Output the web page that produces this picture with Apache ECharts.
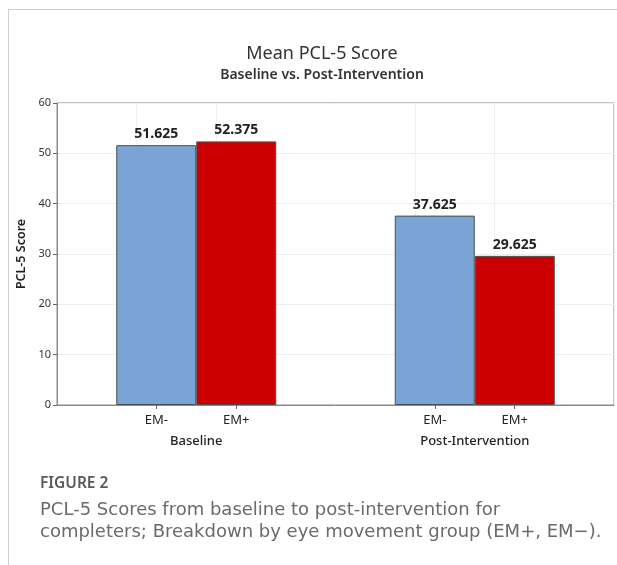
<!DOCTYPE html>
<html>
<head>
<meta charset="utf-8">
<style>
  body,
  html {
    overflow: hidden;
    width: 100%;
    height: 100%;
    margin: 0;
    padding: 0;
    background: #fff;
  }
  .chart-wrapper {
    position: relative;
    width: 617px;
    height: 565px;
  }
</style>
</head>
<body>
<div id="chart-wrapper" class="chart-wrapper"></div>
<script src="https://cdn.jsdelivr.net/npm/echarts@6/dist/echarts.min.js"></script>
<script>
  // data
  const phases = ["Baseline", "Post-Intervention"];
  const groups = ["EM-", "EM+"];
  const emMinus = [51.625, 37.625];
  const emPlus = [52.375, 29.625];

  // hidden helper axis: 14 slots, bar centres sit on slots 2,4,9,11
  const slots = Array.from({ length: 14 }, (_, i) => "s" + i);
  const tickSlots = [2, 4, 9, 11];

  const chartDom = document.getElementById("chart-wrapper");
  const chart = echarts.init(chartDom, null, { renderer: "canvas" });
  const font = "'Noto Sans', 'Open Sans', sans-serif";
  const capFont = "'DejaVu Sans', sans-serif";

  const barLabel = {
    show: true,
    position: "top",
    distance: 4,
    fontSize: 14,
    fontWeight: "bold",
    color: "#222",
    formatter: (p) => p.value.toFixed(3),
  };

  const option = {
    backgroundColor: "#fff",
    animation: false,
    textStyle: { fontFamily: font },
    title: [
      {
        text: "Mean PCL-5 Score",
        subtext: "Baseline vs. Post-Intervention",
        left: 317,
        textAlign: "center",
        top: 40,
        itemGap: 5,
        textStyle: { fontSize: 18, fontWeight: "normal", color: "#333", fontFamily: font },
        subtextStyle: { fontSize: 14, fontWeight: 600, color: "#333", fontFamily: font },
      },
    ],
    grid: {
      left: 57,
      right: 3,
      top: 103,
      bottom: 160,
      show: true,
      borderColor: "#8a8a8a",
      borderWidth: 1,
    },
    xAxis: [
      {
        type: "category",
        data: phases,
        axisLine: { show: true, lineStyle: { color: "#8a8a8a" } },
        axisTick: { show: false },
        splitLine: { show: false },
        axisLabel: {
          margin: 5,
          interval: 0,
          formatter: (v) => `{g|${groups[0]}}{g|${groups[1]}}\n{p|${v}}`,
          rich: {
            g: { width: 80, align: "center", fontSize: 13, color: "#222", lineHeight: 20, fontFamily: font },
            p: { fontSize: 13, fontWeight: 500, color: "#222", lineHeight: 22, fontFamily: font },
          },
        },
      },
      {
        type: "category",
        data: slots,
        position: "bottom",
        axisLine: { show: false },
        axisLabel: { show: false },
        axisTick: {
          show: true,
          alignWithLabel: true,
          interval: (i) => tickSlots.includes(i),
          length: 4,
          lineStyle: { color: "#666" },
        },
        splitLine: {
          show: true,
          interval: (i) => tickSlots.includes(i),
          lineStyle: { color: "#f0f0f0" },
        },
      },
    ],
    yAxis: {
      type: "value",
      min: 0,
      max: 60,
      interval: 10,
      name: "PCL-5 Score",
      nameLocation: "middle",
      nameGap: 29,
      nameTextStyle: { fontSize: 12.5, fontWeight: 600, color: "#222", fontFamily: font },
      axisLine: { show: true, lineStyle: { color: "#8a8a8a" } },
      axisTick: { show: true, length: 4, lineStyle: { color: "#666" } },
      axisLabel: { fontSize: 11, color: "#333", margin: 6 },
      splitLine: { show: true, lineStyle: { color: "#eeeeee" } },
    },
    series: [
      {
        name: groups[0],
        type: "bar",
        data: emMinus,
        barWidth: 80,
        barGap: "0%",
        itemStyle: { color: "#7aa3d6", borderColor: "#4d4d4d", borderWidth: 1 },
        label: barLabel,
      },
      {
        name: groups[1],
        type: "bar",
        data: emPlus,
        barWidth: 80,
        barGap: "0%",
        itemStyle: { color: "#cc0000", borderColor: "#4d4d4d", borderWidth: 1 },
        label: barLabel,
      },
    ],
    graphic: [
      {
        type: "line",
        shape: { x1: 8, y1: 9.5, x2: 617, y2: 9.5 },
        style: { stroke: "#d0d0d0", lineWidth: 1 },
      },
      {
        type: "line",
        shape: { x1: 8.5, y1: 9, x2: 8.5, y2: 565 },
        style: { stroke: "#d0d0d0", lineWidth: 1 },
      },
      {
        type: "text",
        left: 40,
        top: 476,
        style: { text: "FIGURE 2", fontSize: 15.5, fontWeight: 600, fill: "#595959", fontFamily: font },
      },
      {
        type: "text",
        left: 40,
        top: 499,
        style: {
          text: "PCL-5 Scores from baseline to post-intervention for\ncompleters; Breakdown by eye movement group (EM+, EM\u2212).",
          fontSize: 18,
          lineHeight: 22,
          fill: "#6a6a6a",
          fontFamily: capFont,
        },
      },
    ],
  };
  chart.setOption(option);
</script>
</body>
</html>
